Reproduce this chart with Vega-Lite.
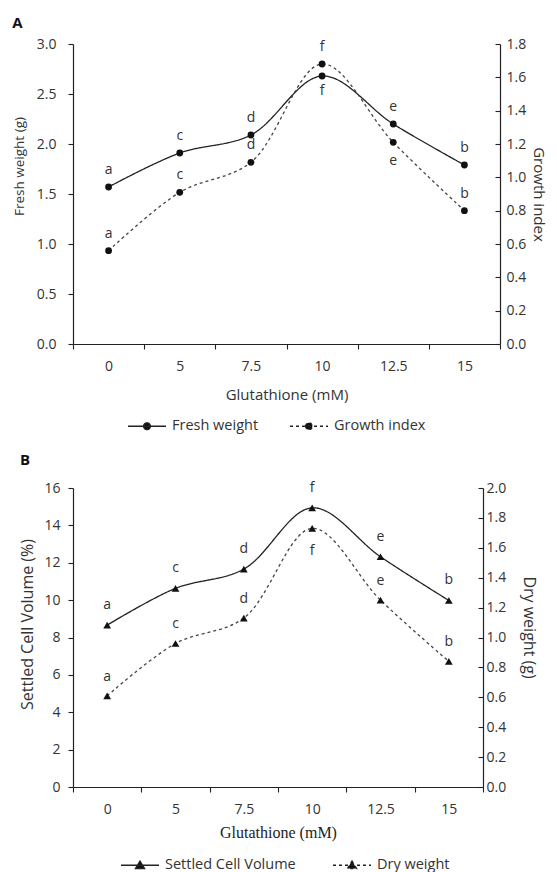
{
  "$schema": "https://vega.github.io/schema/vega-lite/v6.json",
  "padding": {"left": 12, "top": 16, "right": 0, "bottom": 4},
  "bounds": "flush",
  "spacing": 144,
  "config": {
    "view": {"stroke": null},
    "font": "Open Sans",
    "axis": {"grid": false, "domainColor": "#222", "tickColor": "#222", "labelColor": "#333", "titleColor": "#333", "labelFontSize": 14, "titleFontSize": 15, "titleFontWeight": "normal", "labelFont": "Open Sans", "titleFont": "Open Sans", "domainWidth": 1.2, "tickWidth": 1.1},
    "legend": {"labelFont": "Open Sans", "labelFontSize": 14.5, "labelColor": "#333", "orient": "none", "direction": "horizontal", "symbolSize": 1444, "symbolStrokeWidth": 1.3, "symbolStrokeColor": "#222", "symbolFillColor": "#111", "labelOffset": 5},
    "title": {"font": "Open Sans", "fontSize": 15, "fontWeight": "bold", "color": "#111", "anchor": "start", "frame": "bounds", "offset": 6}
  },
  "datasets": {
    "a": [
      {"conc": "0", "series": "Fresh weight", "value": 1.57, "letter": "a"},
      {"conc": "5", "series": "Fresh weight", "value": 1.91, "letter": "c"},
      {"conc": "7.5", "series": "Fresh weight", "value": 2.09, "letter": "d"},
      {"conc": "10", "series": "Fresh weight", "value": 2.68, "letter": "f"},
      {"conc": "12.5", "series": "Fresh weight", "value": 2.2, "letter": "e"},
      {"conc": "15", "series": "Fresh weight", "value": 1.79, "letter": "b"},
      {"conc": "0", "series": "Growth index", "value": 0.56, "letter": "a"},
      {"conc": "5", "series": "Growth index", "value": 0.91, "letter": "c"},
      {"conc": "7.5", "series": "Growth index", "value": 1.09, "letter": "d"},
      {"conc": "10", "series": "Growth index", "value": 1.68, "letter": "f"},
      {"conc": "12.5", "series": "Growth index", "value": 1.21, "letter": "e"},
      {"conc": "15", "series": "Growth index", "value": 0.8, "letter": "b"}
    ],
    "b": [
      {"conc": "0", "series": "Settled Cell Volume", "value": 8.66, "letter": "a"},
      {"conc": "5", "series": "Settled Cell Volume", "value": 10.63, "letter": "c"},
      {"conc": "7.5", "series": "Settled Cell Volume", "value": 11.66, "letter": "d"},
      {"conc": "10", "series": "Settled Cell Volume", "value": 14.94, "letter": "f"},
      {"conc": "12.5", "series": "Settled Cell Volume", "value": 12.32, "letter": "e"},
      {"conc": "15", "series": "Settled Cell Volume", "value": 9.98, "letter": "b"},
      {"conc": "0", "series": "Dry weight", "value": 0.61, "letter": "a"},
      {"conc": "5", "series": "Dry weight", "value": 0.96, "letter": "c"},
      {"conc": "7.5", "series": "Dry weight", "value": 1.13, "letter": "d"},
      {"conc": "10", "series": "Dry weight", "value": 1.73, "letter": "f"},
      {"conc": "12.5", "series": "Dry weight", "value": 1.25, "letter": "e"},
      {"conc": "15", "series": "Dry weight", "value": 0.84, "letter": "b"}
    ]
  },
  "resolve": {"scale": {"strokeDash": "independent"}, "legend": {"strokeDash": "independent"}},
  "vconcat": [
    {
      "title": {"text": "A"},
      "width": 427,
      "height": 300,
      "data": {"name": "a"},
      "encoding": {
        "x": {"field": "conc", "type": "ordinal", "sort": ["0", "5", "7.5", "10", "12.5", "15"],
              "scale": {"type": "band", "paddingInner": 0, "paddingOuter": 0},
              "axis": {"title": "Glutathione (mM)", "labelAngle": 0, "tickBand": "extent", "tickSize": 5, "labelPadding": 10, "titlePadding": 14}}
      },
      "layer": [
        {
          "transform": [{"filter": "datum.series == 'Fresh weight'"}],
          "encoding": {"y": {"field": "value", "type": "quantitative", "scale": {"domain": [0, 3], "nice": false},
                             "axis": {"title": "Fresh weight (g)", "titleFontSize": 13.5, "titleY": 122, "orient": "left", "values": [0, 0.5, 1, 1.5, 2, 2.5, 3], "format": ".1f", "tickSize": 5, "labelPadding": 12, "titlePadding": 10}}},
          "layer": [
            {"mark": {"type": "line", "interpolate": "catmull-rom", "color": "#222", "strokeWidth": 1.3},
             "encoding": {"strokeDash": {"field": "series", "type": "nominal", "scale": {"domain": ["Fresh weight", "Growth index"], "range": [[1, 0], [3, 3]]},
                                         "legend": {"title": null, "legendX": 54, "legendY": 362, "symbolType": "M-1,0L1,0M-0.18,0A0.18,0.18,0,1,0,0.18,0A0.18,0.18,0,1,0,-0.18,0Z", "columnPadding": 28,
                                                    "encode": {"symbols": {"update": {"fill": {"value": "#111"}, "stroke": {"value": "#222"}}}}}}}},
            {"mark": {"type": "point", "shape": "circle", "filled": true, "size": 46, "color": "#111", "opacity": 1}, "encoding": {}},
            {"transform": [{"filter": "datum.conc != '10'"}], "mark": {"type": "text", "dy": -17, "fontSize": 14, "color": "#333", "baseline": "middle"}, "encoding": {"text": {"field": "letter"}}},
            {"transform": [{"filter": "datum.conc == '10'"}], "mark": {"type": "text", "dy": 15, "fontSize": 14, "color": "#333", "baseline": "middle"}, "encoding": {"text": {"field": "letter"}}}
          ]
        },
        {
          "transform": [{"filter": "datum.series == 'Growth index'"}],
          "encoding": {"y": {"field": "value", "type": "quantitative", "scale": {"domain": [0, 1.8], "nice": false},
                             "axis": {"title": "Growth index", "orient": "right", "values": [0, 0.2, 0.4, 0.6, 0.8, 1, 1.2, 1.4, 1.6, 1.8], "format": ".1f", "tickSize": -5, "labelPadding": 11, "titlePadding": 5}}},
          "layer": [
            {"mark": {"type": "line", "interpolate": "catmull-rom", "color": "#444", "strokeWidth": 1.3},
             "encoding": {"strokeDash": {"field": "series", "type": "nominal", "scale": {"domain": ["Fresh weight", "Growth index"], "range": [[1, 0], [3, 3]]}}}},
            {"mark": {"type": "point", "shape": "circle", "filled": true, "size": 46, "color": "#111", "opacity": 1}, "encoding": {}},
            {"transform": [{"filter": "datum.conc != '12.5'"}], "mark": {"type": "text", "dy": -17, "fontSize": 14, "color": "#333", "baseline": "middle"}, "encoding": {"text": {"field": "letter"}}},
            {"transform": [{"filter": "datum.conc == '12.5'"}], "mark": {"type": "text", "dy": 19, "fontSize": 14, "color": "#333", "baseline": "middle"}, "encoding": {"text": {"field": "letter"}}}
          ]
        }
      ],
      "resolve": {"scale": {"y": "independent"}}
    },
    {
      "title": {"text": "B", "offset": 13},
      "width": 410,
      "height": 299,
      "data": {"name": "b"},
      "encoding": {
        "x": {"field": "conc", "type": "ordinal", "sort": ["0", "5", "7.5", "10", "12.5", "15"],
              "scale": {"type": "band", "paddingInner": 0, "paddingOuter": 0},
              "axis": {"title": "Glutathione (mM)", "titleFont": "Liberation Serif", "titleFontSize": 16, "titleColor": "#222", "labelAngle": 0, "tickBand": "extent", "tickSize": 5, "labelPadding": 10, "titlePadding": 8}}
      },
      "layer": [
        {
          "transform": [{"filter": "datum.series == 'Settled Cell Volume'"}],
          "encoding": {"y": {"field": "value", "type": "quantitative", "scale": {"domain": [0, 16], "nice": false},
                             "axis": {"title": "Settled Cell Volume (%)", "titleFontSize": 16, "titleY": 136, "orient": "left", "values": [0, 2, 4, 6, 8, 10, 12, 14, 16], "tickSize": 5, "labelPadding": 8, "titlePadding": 8}}},
          "layer": [
            {"mark": {"type": "line", "interpolate": "catmull-rom", "color": "#222", "strokeWidth": 1.3},
             "encoding": {"strokeDash": {"field": "series", "type": "nominal", "scale": {"domain": ["Settled Cell Volume", "Dry weight"], "range": [[1, 0], [3, 3]]},
                                         "legend": {"title": null, "legendX": 47, "legendY": 357, "symbolType": "M-1,0L1,0M0,-0.22L0.24,0.17L-0.24,0.17Z", "columnPadding": 34,
                                                    "encode": {"symbols": {"update": {"fill": {"value": "#111"}, "stroke": {"value": "#222"}}}}}}}},
            {"mark": {"type": "point", "shape": "triangle-up", "filled": true, "size": 60, "color": "#111", "opacity": 1}, "encoding": {}},
            {"mark": {"type": "text", "dy": -20, "fontSize": 14, "color": "#333", "baseline": "middle"}, "encoding": {"text": {"field": "letter"}}}
          ]
        },
        {
          "transform": [{"filter": "datum.series == 'Dry weight'"}],
          "encoding": {"y": {"field": "value", "type": "quantitative", "scale": {"domain": [0, 2], "nice": false},
                             "axis": {"title": "Dry weight (g)", "titleFontSize": 16, "titleY": 139, "orient": "right", "values": [0, 0.2, 0.4, 0.6, 0.8, 1, 1.2, 1.4, 1.6, 1.8, 2], "format": ".1f", "tickSize": -5, "labelPadding": 8, "titlePadding": 15}}},
          "layer": [
            {"mark": {"type": "line", "interpolate": "catmull-rom", "color": "#444", "strokeWidth": 1.3},
             "encoding": {"strokeDash": {"field": "series", "type": "nominal", "scale": {"domain": ["Settled Cell Volume", "Dry weight"], "range": [[1, 0], [3, 3]]}}}},
            {"mark": {"type": "point", "shape": "triangle-up", "filled": true, "size": 60, "color": "#111", "opacity": 1}, "encoding": {}},
            {"transform": [{"filter": "datum.conc != '10'"}], "mark": {"type": "text", "dy": -19, "fontSize": 14, "color": "#333", "baseline": "middle"}, "encoding": {"text": {"field": "letter"}}},
            {"transform": [{"filter": "datum.conc == '10'"}], "mark": {"type": "text", "dy": 23, "fontSize": 14, "color": "#333", "baseline": "middle"}, "encoding": {"text": {"field": "letter"}}}
          ]
        }
      ],
      "resolve": {"scale": {"y": "independent"}}
    }
  ]
}
